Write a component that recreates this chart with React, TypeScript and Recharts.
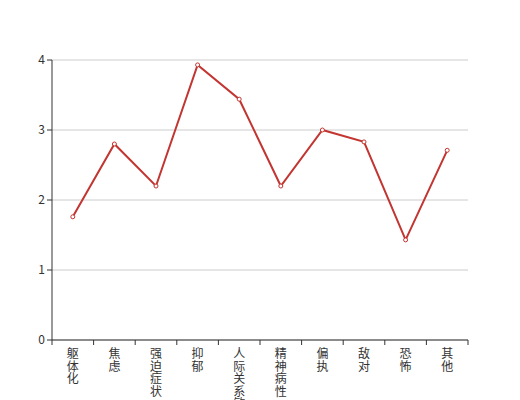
import { LineChart, Line, XAxis, YAxis, CartesianGrid } from 'recharts';

const categories = ['躯体化', '焦虑', '强迫症状', '抑郁', '人际关系敏感', '精神病性', '偏执', '敌对', '恐怖', '其他'];
const scores = [1.76, 2.8, 2.2, 3.93, 3.44, 2.2, 3.0, 2.83, 1.43, 2.71];
const yTicks = [0, 1, 2, 3, 4];

const data = categories.map((name, i) => ({ name, value: scores[i] }));

const FONT = '"Noto Sans CJK SC", "Noto Sans", sans-serif';
const BAND = 416 / categories.length;

function VerticalTick(props: any) {
  const { x, y, payload, index } = props;
  const chars = String(payload.value).split('');
  const top = y - 8;
  return (
    <g>
      <line x1={x - BAND / 2} x2={x - BAND / 2} y1={top} y2={top + 5} stroke="#333" />
      {index === categories.length - 1 && (
        <line x1={x + BAND / 2} x2={x + BAND / 2} y1={top} y2={top + 5} stroke="#333" />
      )}
      <text x={x} y={top + 18} textAnchor="middle" fill="#333" fontSize={12} fontFamily={FONT}>
        {chars.map((c, i) => (
          <tspan key={i} x={x} dy={i === 0 ? 0 : 12.5}>
            {c}
          </tspan>
        ))}
      </text>
    </g>
  );
}

export default function App() {
  return (
    <div style={{ position: 'absolute', left: 0, top: 0, width: 520, height: 400, background: '#fff' }}>
      <LineChart width={520} height={400} data={data} margin={{ top: 60, right: 52, left: 0, bottom: 0 }}>
        <CartesianGrid vertical={false} stroke="#ccc" />
        <XAxis
          dataKey="name"
          interval={0}
          height={60}
          padding={{ left: BAND / 2, right: BAND / 2 }}
          axisLine={{ stroke: '#333' }}
          tickLine={false}
          tick={<VerticalTick />}
        />
        <YAxis
          width={52}
          domain={[0, 4]}
          ticks={yTicks}
          axisLine={{ stroke: '#333' }}
          tickLine={{ stroke: '#333' }}
          tickSize={5}
          tick={{ fill: '#333', fontSize: 12, fontFamily: FONT }}
        />
        <Line
          type="linear"
          dataKey="value"
          stroke="#c23531"
          strokeWidth={2}
          dot={{ r: 2, fill: '#fff', stroke: '#c23531', strokeWidth: 1 }}
          isAnimationActive={false}
        />
      </LineChart>
    </div>
  );
}
